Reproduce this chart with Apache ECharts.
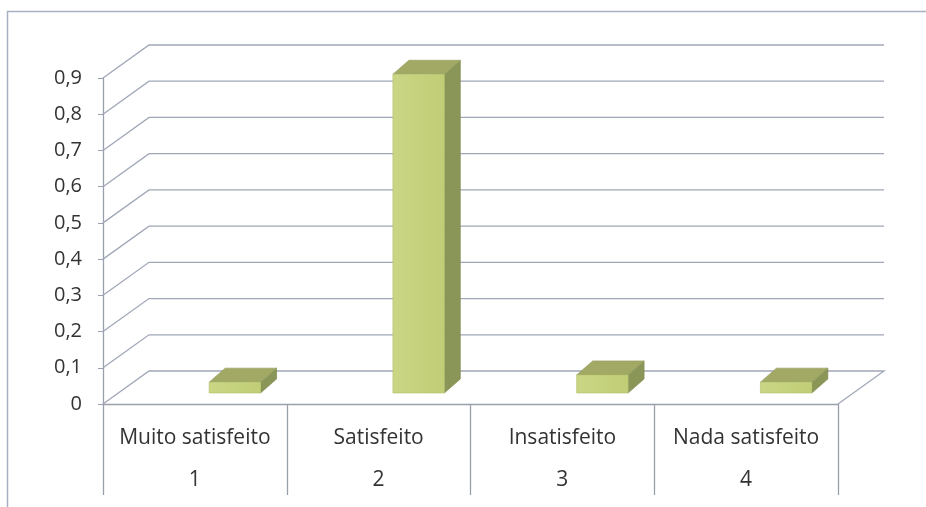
<!DOCTYPE html>
<html>
<head>
<meta charset="utf-8">
<script src="https://cdn.jsdelivr.net/npm/echarts@6/dist/echarts.min.js"></script>
<style>
  html, body { margin: 0; padding: 0; background: #ffffff; }
  #chart { width: 926px; height: 507px; }
</style>
</head>
<body>
<div id="chart"></div>
<script>
// Satisfaction levels and their shares
const categories = ['Muito satisfeito', 'Satisfeito', 'Insatisfeito', 'Nada satisfeito'];
const categoryNumbers = ['1', '2', '3', '4'];
const shares = [0.03, 0.88, 0.05, 0.03];
const yTicks = [0, 0.1, 0.2, 0.3, 0.4, 0.5, 0.6, 0.7, 0.8, 0.9];

// Pseudo-3D look: depth of the back wall and of the bars
const WALL_DX = 46, WALL_DY = -33;
const BAR_SHIFT_X = 40, BAR_SHIFT_Y = -11;
const BAR_DX = 16, BAR_DY = -14;
const GRID_COLOR = '#a0a7b6';
const AXIS_COLOR = '#9aa0ab';
const TEXT_COLOR = '#333333';
const FONT = '"Open Sans", "Noto Sans", sans-serif';

const chart = echarts.init(document.getElementById('chart'), null, { renderer: 'canvas' });

function wallItem(params, api) {
  const v = api.value(0);
  const cs = params.coordSys;
  const left = cs.x, right = cs.x + cs.width;
  const y = api.coord([0, v])[1];
  const pts = [[left, y], [left + WALL_DX, y + WALL_DY], [right + WALL_DX, y + WALL_DY]];
  if (v === 0) pts.push([right, y]);
  return {
    type: 'polyline',
    shape: { points: pts },
    style: { stroke: GRID_COLOR, lineWidth: 1.3, fill: null }
  };
}

function barItem(params, api) {
  const i = api.value(0), v = api.value(1);
  const base = api.coord([i, 0]);
  const top = api.coord([i, v]);
  const bw = api.size([1, 0])[0] * 0.28;
  const x0 = base[0] + BAR_SHIFT_X - bw / 2, x1 = x0 + bw;
  const yb = base[1] + BAR_SHIFT_Y, yt = top[1] + BAR_SHIFT_Y;
  return {
    type: 'group',
    children: [
      {
        type: 'polygon',
        shape: { points: [[x1, yt], [x1 + BAR_DX, yt + BAR_DY], [x1 + BAR_DX, yb + BAR_DY], [x1, yb]] },
        style: { fill: '#8a9657', stroke: '#7e894f', lineWidth: 0.6 }
      },
      {
        type: 'polygon',
        shape: { points: [[x0, yt], [x0 + BAR_DX, yt + BAR_DY], [x1 + BAR_DX, yt + BAR_DY], [x1, yt]] },
        style: { fill: '#a1a965', stroke: '#939b5b', lineWidth: 0.6 }
      },
      {
        type: 'rect',
        shape: { x: x0, y: yt, width: bw, height: yb - yt },
        style: {
          fill: new echarts.graphic.LinearGradient(0, 0, 1, 0, [
            { offset: 0, color: '#cad684' },
            { offset: 1, color: '#c1ce76' }
          ]),
          stroke: '#b2c06c', lineWidth: 0.6
        }
      }
    ]
  };
}

chart.setOption({
  backgroundColor: '#ffffff',
  animation: false,
  graphic: [{
    type: 'rect',
    shape: { x: 7.5, y: 11.5, width: 940, height: 520 },
    style: { fill: null, stroke: '#a8b1c2', lineWidth: 1.5 },
    silent: true
  }],
  grid: { left: 103, right: 88, top: 78, bottom: 103, containLabel: false },
  xAxis: {
    type: 'category',
    data: categories,
    boundaryGap: true,
    axisLine: { show: true, lineStyle: { color: AXIS_COLOR, width: 1.3 } },
    axisTick: { show: true, inside: false, length: 91, interval: 0, alignWithLabel: false,
                lineStyle: { color: AXIS_COLOR, width: 1.3 } },
    axisLabel: {
      interval: 0,
      margin: 13,
      color: TEXT_COLOR,
      fontFamily: FONT,
      fontSize: 21,
      lineHeight: 42,
      formatter: (value, index) => value + '\n' + categoryNumbers[index]
    },
    splitLine: { show: false }
  },
  yAxis: {
    type: 'value',
    min: 0,
    max: 0.9,
    interval: 0.1,
    axisLine: { show: true, lineStyle: { color: AXIS_COLOR, width: 1.3 } },
    axisTick: { show: true, inside: false, length: 5, lineStyle: { color: AXIS_COLOR } },
    axisLabel: {
      margin: 21,
      color: TEXT_COLOR,
      fontFamily: FONT,
      fontSize: 20,
      formatter: v => (Math.round(v * 10) / 10).toString().replace('.', ',')
    },
    splitLine: { show: false }
  },
  series: [
    {
      type: 'custom',
      name: 'wall',
      coordinateSystem: 'cartesian2d',
      clip: false,
      silent: true,
      data: yTicks.map(v => [v]),
      encode: { y: 0 },
      renderItem: wallItem,
      z: 1
    },
    {
      type: 'custom',
      name: 'Satisfação',
      coordinateSystem: 'cartesian2d',
      clip: false,
      data: shares.map((v, i) => [i, v]),
      encode: { x: 0, y: 1 },
      renderItem: barItem,
      z: 2
    }
  ]
});
</script>
</body>
</html>
